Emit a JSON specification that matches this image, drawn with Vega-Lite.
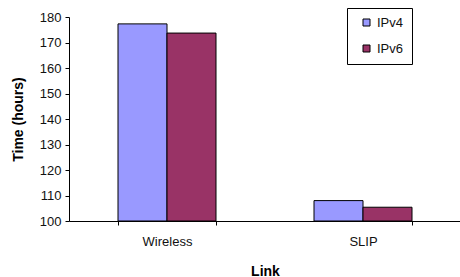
{
  "$schema": "https://vega.github.io/schema/vega-lite/v6.json",
  "width": 392,
  "height": 204,
  "autosize": {"type": "none"},
  "padding": {"left": 69, "top": 17, "right": 0, "bottom": 56},
  "background": "white",
  "config": {
    "font": "Liberation Sans",
    "view": {"stroke": null},
    "axis": {"grid": false, "domainColor": "black", "tickColor": "black", "labelColor": "#111111", "titleColor": "black", "labelFont": "Liberation Sans", "titleFont": "Liberation Sans", "labelFontSize": 13, "titleFontSize": 14, "titleFontWeight": "bold", "domainWidth": 1, "tickWidth": 1}
  },
  "data": {
    "values": [
      {"link": "Wireless", "protocol": "IPv4", "time": 177.3},
      {"link": "Wireless", "protocol": "IPv6", "time": 173.7},
      {"link": "SLIP", "protocol": "IPv4", "time": 108.0},
      {"link": "SLIP", "protocol": "IPv6", "time": 105.4}
    ]
  },
  "mark": {"type": "bar", "stroke": "black", "strokeWidth": 1},
  "encoding": {
    "x": {
      "field": "link", "type": "nominal", "sort": ["Wireless", "SLIP"],
      "scale": {"paddingInner": 0.5, "paddingOuter": 0.25},
      "axis": {"title": "Link", "labelAngle": 0, "tickBand": "extent", "tickSize": 4, "labelPadding": 10, "titlePadding": 16}
    },
    "xOffset": {"field": "protocol", "type": "nominal", "scale": {"paddingInner": 0, "paddingOuter": 0}},
    "y": {
      "field": "time", "type": "quantitative",
      "scale": {"domain": [100, 180], "zero": false, "nice": false},
      "axis": {"title": "Time (hours)", "values": [100, 110, 120, 130, 140, 150, 160, 170, 180], "tickSize": 4, "labelPadding": 4, "titlePadding": 14}
    },
    "y2": {"datum": 100},
    "color": {
      "field": "protocol", "type": "nominal",
      "scale": {"domain": ["IPv4", "IPv6"], "range": ["#9999FF", "#993366"]},
      "legend": {
        "title": null, "orient": "none", "legendX": 278, "legendY": -9,
        "strokeColor": "black", "fillColor": "white", "padding": 8,
        "symbolType": "square", "symbolSize": 49, "symbolStrokeColor": "black", "symbolStrokeWidth": 1,
        "labelFontSize": 13, "labelColor": "#111111", "labelFont": "Liberation Sans",
        "rowPadding": 12, "labelOffset": 4, "symbolOffset": 5,
        "labelExpr": "datum.label + '\u00a0\u00a0\u00a0'"
      }
    }
  }
}
